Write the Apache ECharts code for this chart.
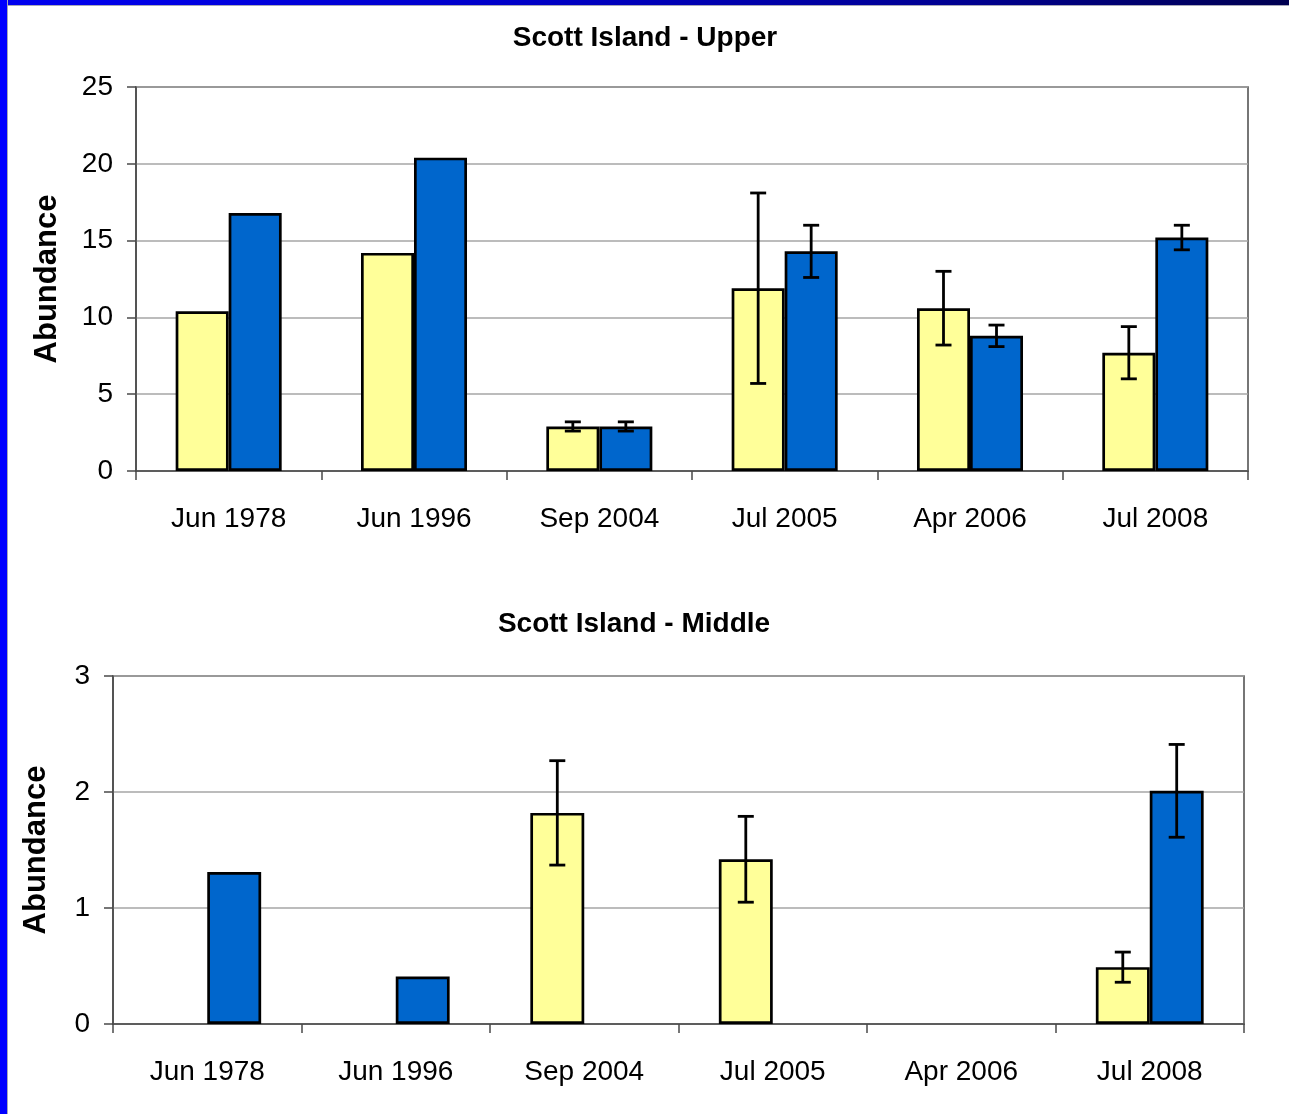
<!DOCTYPE html>
<html>
<head>
<meta charset="utf-8">
<script src="https://cdn.jsdelivr.net/npm/echarts@6/dist/echarts.min.js"></script>
<style>
  html, body { margin: 0; padding: 0; background: #ffffff; }
  #stage { position: relative; width: 1289px; height: 1114px; overflow: hidden; background: #ffffff; }
  #edgeLeft { position: absolute; left: 0; top: 0; width: 7px; height: 1114px; background: #0000ff; border-right: 1px solid #a8a8b8; }
  #edgeTop { position: absolute; left: 0; top: 0; width: 1289px; height: 5px;
             background: linear-gradient(to right, #0000f0 0%, #0000c8 40%, #000090 75%, #000050 100%);
             border-bottom: 1px solid #a8a8b8; }
  #chart { position: absolute; left: 0; top: 0; width: 1289px; height: 1114px; }
</style>
</head>
<body>
<div id="stage">
  <div id="chart"></div>
  <div id="edgeTop"></div>
  <div id="edgeLeft"></div>
</div>
<script>
// Sampling dates shared by both panels
const categories = ['Jun 1978', 'Jun 1996', 'Sep 2004', 'Jul 2005', 'Apr 2006', 'Jul 2008'];

// Scott Island - Upper: mean abundance and error (+/-) per date
const upperYellow    = [10.4, 14.2, 2.9, 11.9, 10.6, 7.7];
const upperBlue      = [16.8, 20.4, 2.9, 14.3, 8.8, 15.2];
const upperYellowErr = [null, null, 0.3, 6.2, 2.4, 1.7];
const upperBlueErr   = [null, null, 0.3, 1.7, 0.7, 0.8];

// Scott Island - Middle
const middleYellow    = [null, null, 1.82, 1.42, null, 0.49];
const middleBlue      = [1.31, 0.41, null, null, null, 2.01];
const middleYellowErr = [null, null, 0.45, 0.37, null, 0.13];
const middleBlueErr   = [null, null, null, null, null, 0.40];

// Value-axis ticks
const upperTicks = [0, 5, 10, 15, 20, 25];
const middleTicks = [0, 1, 2, 3];

const panelTitles = ['Scott Island - Upper', 'Scott Island - Middle'];
const axisTitle = 'Abundance';

const FONT = '"Liberation Sans", Arial, sans-serif';
const YELLOW = '#ffff99';
const BLUE = '#0066cc';
const BAR_RATIO = 0.286;

function errorData(values, errs) {
  const out = [];
  errs.forEach(function (e, i) {
    if (e != null && values[i] != null) out.push([i, values[i], e]);
  });
  return out;
}

// Whisker drawn over one bar of a two-bar group; side -1 = left bar, +1 = right bar
function whiskers(side) {
  return function (params, api) {
    const i = api.value(0), v = api.value(1), e = api.value(2);
    const band = api.size([1, 0])[0];
    const bw = band * BAR_RATIO;
    const x = api.coord([i, v])[0] + side * bw / 2;
    const yTop = api.coord([i, v + e])[1];
    const yBot = api.coord([i, v - e])[1];
    const half = 8;
    const st = { stroke: '#000000', lineWidth: 2.8 };
    return {
      type: 'group',
      children: [
        { type: 'line', shape: { x1: x, y1: yTop, x2: x, y2: yBot }, style: st },
        { type: 'line', shape: { x1: x - half, y1: yTop, x2: x + half, y2: yTop }, style: st },
        { type: 'line', shape: { x1: x - half, y1: yBot, x2: x + half, y2: yBot }, style: st }
      ]
    };
  };
}

function xAxisFor(gridIndex) {
  return {
    type: 'category', gridIndex: gridIndex, data: categories,
    axisLine: { lineStyle: { color: '#4a4a4a', width: 1.5 } },
    axisTick: { show: true, length: 9, lineStyle: { color: '#4a4a4a', width: 1.5 } },
    axisLabel: { color: '#000000', fontFamily: FONT, fontSize: 28, margin: 34 },
    splitLine: { show: false }
  };
}

function yAxisFor(gridIndex, ticks, gap) {
  return {
    type: 'value', gridIndex: gridIndex,
    min: ticks[0], max: ticks[ticks.length - 1], interval: ticks[1] - ticks[0],
    name: axisTitle, nameLocation: 'middle', nameRotate: 90, nameGap: gap,
    nameTextStyle: { color: '#000000', fontFamily: FONT, fontWeight: 'bold', fontSize: 31 },
    axisLine: { show: true, lineStyle: { color: '#4a4a4a', width: 1.5 } },
    axisTick: { show: true, length: 9, lineStyle: { color: '#4a4a4a', width: 1.5 } },
    axisLabel: { color: '#000000', fontFamily: FONT, fontSize: 28, margin: 23 },
    splitLine: { show: true, lineStyle: { color: '#a6a6a6', width: 1.5 } }
  };
}

function barSeries(values, color, xi) {
  return {
    type: 'bar', xAxisIndex: xi, yAxisIndex: xi,
    data: values, barWidth: (BAR_RATIO * 100) + '%', barGap: '0%',
    itemStyle: { color: color, borderColor: '#000000', borderWidth: 2.7 },
    emphasis: { disabled: true }, z: 2
  };
}

function errSeries(values, errs, side, xi) {
  return {
    type: 'custom', xAxisIndex: xi, yAxisIndex: xi,
    coordinateSystem: 'cartesian2d',
    data: errorData(values, errs),
    encode: { x: 0, y: 1 },
    renderItem: whiskers(side), z: 5, silent: true
  };
}

const chart = echarts.init(document.getElementById('chart'), null, { renderer: 'canvas' });
chart.setOption({
  animation: false,
  backgroundColor: 'transparent',
  grid: [
    { left: 136, right: 41, top: 87, height: 384, show: true, borderColor: '#4a4a4a', borderWidth: 1.5, backgroundColor: 'transparent' },
    { left: 113, right: 45, top: 676, height: 348, show: true, borderColor: '#4a4a4a', borderWidth: 1.5, backgroundColor: 'transparent' }
  ],
  xAxis: [xAxisFor(0), xAxisFor(1)],
  yAxis: [yAxisFor(0, upperTicks, 73), yAxisFor(1, middleTicks, 61)],
  graphic: [
    { type: 'text', x: 645, y: 38, style: { text: panelTitles[0], align: 'center', verticalAlign: 'middle', fill: '#000000', font: 'bold 28px ' + FONT } },
    { type: 'text', x: 634, y: 624, style: { text: panelTitles[1], align: 'center', verticalAlign: 'middle', fill: '#000000', font: 'bold 28px ' + FONT } }
  ],
  series: [
    barSeries(upperYellow, YELLOW, 0),
    barSeries(upperBlue, BLUE, 0),
    errSeries(upperYellow, upperYellowErr, -1, 0),
    errSeries(upperBlue, upperBlueErr, 1, 0),
    barSeries(middleYellow, YELLOW, 1),
    barSeries(middleBlue, BLUE, 1),
    errSeries(middleYellow, middleYellowErr, -1, 1),
    errSeries(middleBlue, middleBlueErr, 1, 1)
  ]
});
</script>
</body>
</html>
